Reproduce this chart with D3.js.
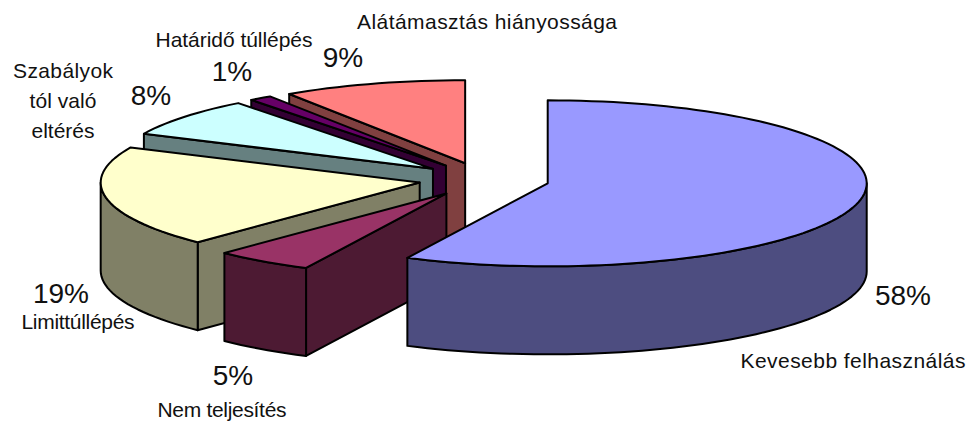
<!DOCTYPE html>
<html><head><meta charset="utf-8">
<script src="https://cdn.jsdelivr.net/npm/d3@7/dist/d3.min.js"></script>
<style>html,body{margin:0;padding:0;background:#fff}svg{display:block}text{font-family:"Liberation Sans",Arial,sans-serif;fill:#111}</style>
</head><body><svg id="c" width="970" height="421"></svg>
<script>
const categories = ["Kevesebb felhasználás","Nem teljesítés","Limittúllépés","Szabályok tól való eltérés","Határidő túllépés","Alátámasztás hiányossága"];
const values = [57.25,5.0,19.7,7.6,1.15,9.3];
const percentLabels = ["58%","5%","19%","8%","1%","9%"];
const topColors = ["#9999FF","#993366","#FFFFCC","#CCFFFF","#660066","#FF8080"];
const wallColors = ["#4D4D80","#4D1A33","#808066","#668080","#330033","#804040"];
const categoryLines = [["Kevesebb felhasználás"],["Nem teljesítés"],["Limittúllépés"],["Szabályok","tól való","eltérés"],["Határidő túllépés"],["Alátámasztás hiányossága"]];
const categoryPos = [[853,368],[222,417],[78,329],[63,78],[234,47],[487,29]];
const categoryWidths = [[225],[129],[113],[100,67,63],[157],[260]];
const percentPos = [[903,305],[233,385],[61,303],[151,105],[232,81],[343,67]];

const cx=484, cy=179.5, rx=319, ry=83, depth=88, explode=0.205;
const PCT=28, CAT=21;
const svg=d3.select("#c");
const X=d3.scaleLinear().domain([-1,1]).range([cx-rx,cx+rx]);
const Y=d3.scaleLinear().domain([-1,1]).range([cy-ry,cy+ry]);
const pie=d3.pie().sort(null).value(d=>d).startAngle(0).endAngle(2*Math.PI);
const arcs=pie(values);
const line=d3.line();

const pt=(a,e,dy)=>[X(e[0]+Math.sin(a)),Y(e[1]-Math.cos(a))+dy];
function arcPts(a0,a1,e,dy){
  const n=Math.max(2,Math.ceil((a1-a0)/(Math.PI/90)));
  return d3.range(n+1).map(i=>pt(a0+(a1-a0)*i/n,e,dy));
}
// paint back to front: the last slices sit behind the first
const order=d3.range(values.length).reverse();
const g=svg.selectAll("g.slice").data(order.map(i=>({i,a:arcs[i]}))).join("g").attr("class","slice");
g.each(function(d){
  const s=d3.select(this),a0=d.a.startAngle,a1=d.a.endAngle,mid=(a0+a1)/2;
  const e=[explode*Math.sin(mid),-explode*Math.cos(mid)];
  const apex=[X(e[0]),Y(e[1])];
  const face=(pts,fill)=>s.append("path").attr("d",line(pts)+"Z").attr("fill",fill)
    .attr("stroke","#000").attr("stroke-width",2).attr("stroke-linejoin","round");
  // radial wall on the leading edge when it faces the viewer
  if(a0>Math.PI){
    const p=pt(a0,e,0);
    face([apex,p,[p[0],p[1]+depth],[apex[0],apex[1]+depth]],wallColors[d.i]);
  }
  // outer wall on the part of the rim facing the viewer
  const w0=Math.max(a0,Math.PI/2),w1=Math.min(a1,1.5*Math.PI);
  if(w1>w0) face(arcPts(w0,w1,e,0).concat(arcPts(w0,w1,e,depth).reverse()),wallColors[d.i]);
  // top face
  face([apex].concat(arcPts(a0,a1,e,0)),topColors[d.i]);
});
// labels
svg.selectAll("text.pct").data(percentLabels).join("text").attr("class","pct")
  .attr("x",(d,i)=>percentPos[i][0]).attr("y",(d,i)=>percentPos[i][1]).attr("text-anchor","middle").attr("font-size",PCT).text(d=>d);
categories.forEach((c,i)=>{
  const t=svg.append("text").attr("class","cat").attr("font-size",CAT).attr("text-anchor","middle");
  categoryLines[i].forEach((l,j)=>t.append("tspan").attr("x",categoryPos[i][0]).attr("y",categoryPos[i][1]+j*30)
    .attr("textLength",categoryWidths[i][j]).attr("lengthAdjust","spacing").text(l));
});
</script></body></html>
